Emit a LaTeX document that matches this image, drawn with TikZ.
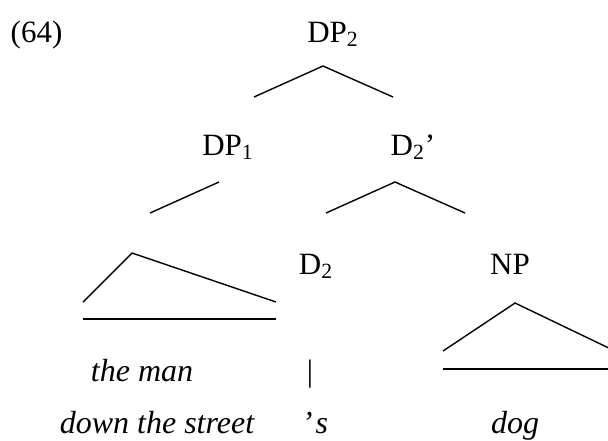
\documentclass[tikz,border=0pt]{standalone}
\usepackage{fontspec}
\setmainfont{Liberation Serif}
\usepackage{tikz}

\begin{document}
\begin{tikzpicture}[x=0.5pt,y=-0.5pt,line width=0.7pt,
  lab/.style={anchor=base,inner sep=0pt,font=\fontsize{15.5}{18}\selectfont},
  wrd/.style={lab,font=\fontsize{16}{18}\selectfont\itshape}]
\clip(0,0)rectangle(608,440);
\node[lab,anchor=base west](ex)at(10,42){(64)};
\node[lab](dp2)at(333,42){DP\textsubscript{2}};
\node[lab](dp1)at(228,155){DP\textsubscript{1}};
\node[lab](d2bar)at(413,155){D\textsubscript{2}’};
\node[lab](d2)at(316,274){D\textsubscript{2}};
\node[lab](np)at(510,274){NP};
\node[wrd](man)at(142,381){the man};
\node[lab](bar)at(310,381){|};
\node[wrd](street)at(157,433){down the street};
\node[wrd](poss)at(315,433){’\kern1.5pt s};
\node[wrd](dog)at(515,433){dog};
\coordinate(a)at(323,66);
\coordinate(al)at(254,97);
\coordinate(ar)at(393,97);
\coordinate(b)at(219,182);
\coordinate(bl)at(150,213);
\coordinate(c)at(395,182);
\coordinate(cl)at(326,213);
\coordinate(cr)at(465,213);
\coordinate(t)at(132,253);
\coordinate(tl)at(83,302);
\coordinate(tr)at(276,302);
\coordinate(tbl)at(83,319);
\coordinate(tbr)at(276,319);
\coordinate(n)at(515,303);
\coordinate(nl)at(443,351);
\coordinate(nr)at(615,351);
\coordinate(nbl)at(443,369);
\coordinate(nbr)at(615,369);
\draw(al)--(a)--(ar);
\draw(b)--(bl);
\draw(cl)--(c)--(cr);
\draw(tl)--(t)--(tr);
\draw(tbl)--(tbr);
\draw(nl)--(n)--(nr);
\draw(nbl)--(nbr);
\end{tikzpicture}
\end{document}
